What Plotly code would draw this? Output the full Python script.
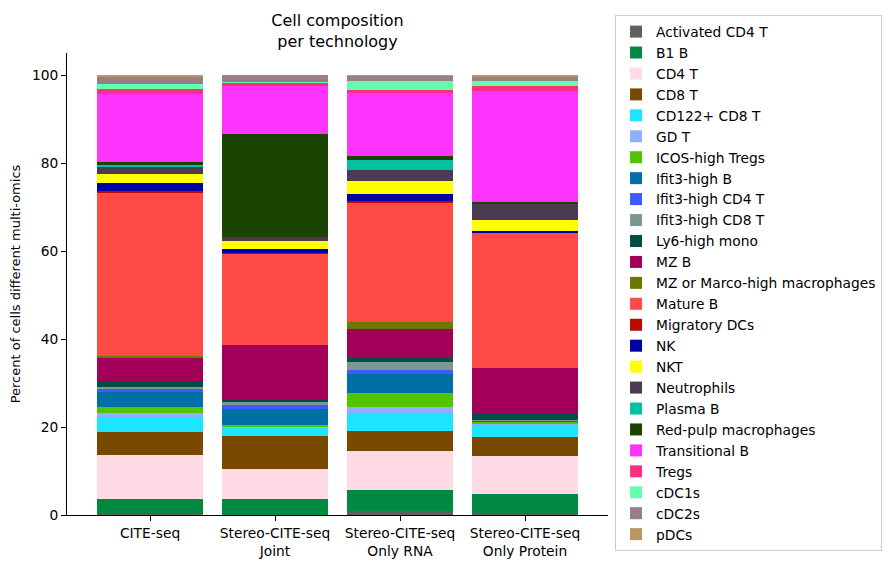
import plotly.graph_objects as go

# ----------------------------
# Data (percent of cells per technology)
# ----------------------------

technologies = ["CITE-seq", "Stereo-CITE-seq<br>Joint", "Stereo-CITE-seq<br>Only RNA", "Stereo-CITE-seq<br>Only Protein"]

cell_types = [
    "Activated CD4 T", "B1 B", "CD4 T", "CD8 T", "CD122+ CD8 T", "GD T",
    "ICOS-high Tregs", "Ifit3-high B", "Ifit3-high CD4 T", "Ifit3-high CD8 T",
    "Ly6-high mono", "MZ B", "MZ or Marco-high macrophages", "Mature B",
    "Migratory DCs", "NK", "NKT", "Neutrophils", "Plasma B",
    "Red-pulp macrophages", "Transitional B", "Tregs", "cDC1s", "cDC2s", "pDCs",
]

cite_seq = [0.3, 3.3, 10.0, 5.3, 3.4, 0.9, 1.3, 3.5, 0.6, 0.5, 1.4, 5.3, 0.3,
            37.3, 0.2, 1.9, 2.0, 1.8, 0.2, 0.7, 15.5, 1.1, 1.2, 1.5, 0.5]
stereo_joint = [0.05, 3.55, 6.9, 7.5, 2.0, 0.1, 0.4, 3.6, 0.9, 0.7, 0.5, 12.4, 0.0,
                20.9, 0.1, 0.8, 1.9, 0.9, 0.0, 23.4, 10.9, 0.7, 0.2, 1.6, 0.0]
stereo_rna = [0.9, 4.8, 8.8, 4.6, 4.1, 1.3, 3.2, 4.3, 0.9, 1.8, 0.9, 6.6, 1.6,
              27.3, 0.2, 1.7, 2.9, 2.5, 2.3, 0.9, 14.3, 0.7, 2.0, 1.2, 0.2]
stereo_protein = [0.2, 4.6, 8.6, 4.3, 2.8, 0.4, 0.4, 0.1, 0.0, 0.1, 1.5, 10.4, 0.0,
                  30.7, 0.0, 0.4, 2.5, 3.7, 0.0, 0.4, 25.3, 1.1, 1.1, 0.9, 0.5]

colors = [
    "#61615A", "#008941", "#FFDBE5", "#7A4900", "#1CE6FF", "#8FB0FF",
    "#4FC601", "#006FA6", "#3B5DFF", "#809693", "#004D43", "#A30059",
    "#6B7900", "#FF4A46", "#BA0900", "#0000A6", "#FFFF00", "#4A3B53",
    "#00C2A0", "#1B4400", "#FF34FF", "#FF2F80", "#63FFAC", "#997D87", "#B79762",
]

# ----------------------------
# Figure
# ----------------------------

font = "DejaVu Sans"
fig = go.Figure()

for i, name in enumerate(cell_types):
    fig.add_trace(go.Bar(
        x=technologies,
        y=[cite_seq[i], stereo_joint[i], stereo_rna[i], stereo_protein[i]],
        name=name,
        marker=dict(color=colors[i], line=dict(width=0)),
    ))

# margins account for the 8px page margin around the plot div
fig.update_layout(
    barmode="stack",
    bargap=0.15,
    width=896,
    height=565,
    margin=dict(l=59, r=296, t=45, b=58, autoexpand=False),
    plot_bgcolor="white",
    paper_bgcolor="white",
    font=dict(family=font, size=13.8, color="black"),
    title=dict(
        text="Cell composition<br>per technology",
        x=0.5, xref="paper", xanchor="center",
        y=0.968, yref="container", yanchor="top",
        pad=dict(t=0),
        font=dict(size=16),
    ),
    legend=dict(
        x=1.013, xanchor="left",
        y=1.082, yanchor="top",
        maxheight=560,
        traceorder="normal",
        bordercolor="#cccccc",
        borderwidth=1,
        font=dict(size=13.8),
        itemwidth=30,
    ),
    xaxis=dict(
        range=[-0.664, 3.664],
        showline=True, linecolor="black", linewidth=1,
        ticks="outside", ticklen=5, tickcolor="black",
        showgrid=False,
    ),
    yaxis=dict(
        range=[0, 105],
        showline=True, linecolor="black", linewidth=1,
        ticks="outside", ticklen=5, tickcolor="black",
        tickvals=[0, 20, 40, 60, 80, 100],
        showgrid=False, zeroline=False,
        title=dict(text="Percent of cells different multi-omics", standoff=10,
                   font=dict(size=13)),
    ),
)

fig.write_html("out.html")
